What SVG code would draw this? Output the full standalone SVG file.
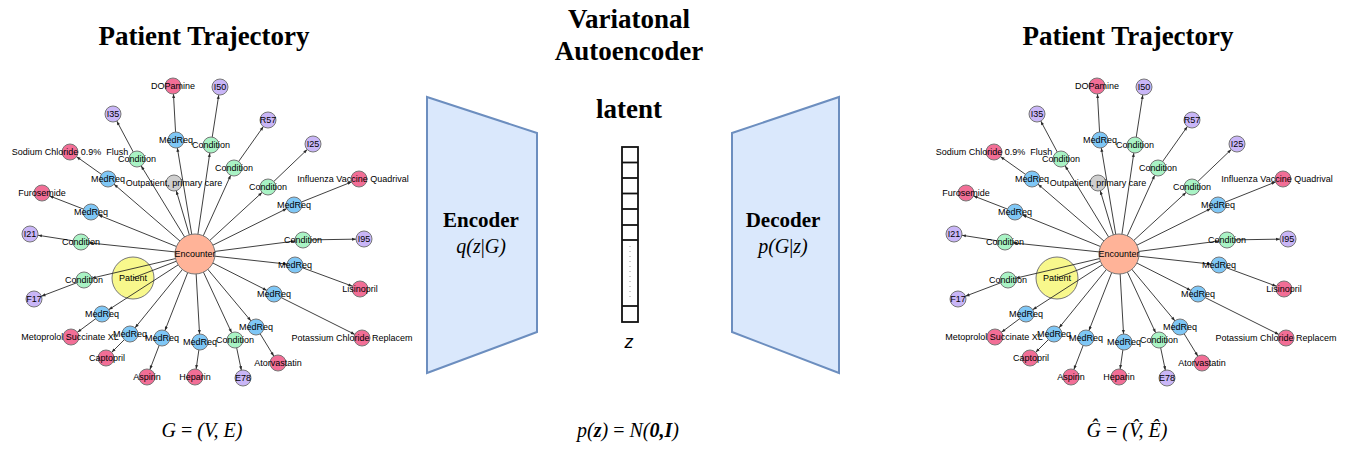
<svg xmlns="http://www.w3.org/2000/svg" width="1346" height="449" viewBox="0 0 1346 449">
<style>
.title{font-family:"Liberation Serif",serif;font-weight:bold;font-size:27px;fill:#000;text-anchor:middle}
.blk{font-family:"Liberation Serif",serif;font-weight:bold;font-size:21px;fill:#000;text-anchor:middle}
.math{font-family:"Liberation Serif",serif;font-size:20px;fill:#000;text-anchor:middle}
.it{font-style:italic}
.bi{font-style:italic;font-weight:bold}
.lbl{font-family:"Liberation Sans",Arial,sans-serif;font-size:9px;fill:#000;text-anchor:middle;white-space:pre}
.n circle{stroke:#777;stroke-width:1}
.pink{fill:#F26E96}
.purple{fill:#C9B6F7}
.blue{fill:#7FC7F6}
.green{fill:#A9F3C5}
.gray{fill:#CFCFCF}
.salmon{fill:#FFB398}
.yellow{fill:#F8F88C}
.e{stroke:#2a2a2a;stroke-width:0.9;marker-end:url(#arr)}
.e0{stroke:#2a2a2a;stroke-width:0.9}
.trap{fill:#DAE8FC;stroke:#6C8EBF;stroke-width:2}
.cell{fill:#fff;stroke:#111;stroke-width:1.8}
</style>
<defs>
<marker id="arr" markerUnits="userSpaceOnUse" markerWidth="14" markerHeight="4" refX="12" refY="1.5" orient="auto" overflow="visible">
<path d="M0,0 L4,1.5 L0,3 z" fill="#2a2a2a"/>
</marker>
</defs>

<text class="title" x="204" y="45">Patient Trajectory</text>
<text class="title" x="1128" y="45">Patient Trajectory</text>
<text class="title" x="629" y="28">Variatonal</text>
<text class="title" x="629" y="60">Autoencoder</text>
<text class="title" x="629" y="118">latent</text>

<!-- LEFT GRAPH -->
<g id="left-graph">
<g id="L-patient" class="n"><circle class="yellow" cx="133" cy="278" r="21"/><text class="lbl" x="133" y="281">Patient</text></g>
<g id="L-connectors">
<line class="e0" x1="195" y1="254" x2="133" y2="278"/>
<line class="e" x1="195" y1="254" x2="174" y2="183"/>
<line class="e" x1="195" y1="254" x2="211" y2="145"/>
<line class="e" x1="195" y1="254" x2="176" y2="140"/>
<line class="e" x1="195" y1="254" x2="137" y2="159"/>
<line class="e" x1="195" y1="254" x2="108" y2="179"/>
<line class="e" x1="195" y1="254" x2="91" y2="212"/>
<line class="e" x1="195" y1="254" x2="234" y2="168"/>
<line class="e" x1="195" y1="254" x2="268" y2="187"/>
<line class="e" x1="195" y1="254" x2="294" y2="205"/>
<line class="e" x1="195" y1="254" x2="81" y2="242"/>
<line class="e" x1="195" y1="254" x2="84" y2="280"/>
<line class="e" x1="195" y1="254" x2="102" y2="314"/>
<line class="e" x1="195" y1="254" x2="130" y2="334"/>
<line class="e" x1="195" y1="254" x2="162" y2="338"/>
<line class="e" x1="195" y1="254" x2="200" y2="342"/>
<line class="e" x1="195" y1="254" x2="303" y2="240"/>
<line class="e" x1="195" y1="254" x2="295" y2="265"/>
<line class="e" x1="195" y1="254" x2="274" y2="294"/>
<line class="e" x1="195" y1="254" x2="256" y2="327"/>
<line class="e" x1="195" y1="254" x2="235" y2="340"/>
<line class="e" x1="211" y1="145" x2="220" y2="87"/>
<line class="e" x1="176" y1="140" x2="173" y2="86"/>
<line class="e" x1="137" y1="159" x2="113" y2="114"/>
<line class="e" x1="108" y1="179" x2="70" y2="152"/>
<line class="e" x1="91" y1="212" x2="42" y2="193"/>
<line class="e" x1="234" y1="168" x2="268" y2="120"/>
<line class="e" x1="268" y1="187" x2="313" y2="144"/>
<line class="e" x1="294" y1="205" x2="359" y2="179"/>
<line class="e" x1="81" y1="242" x2="30" y2="234"/>
<line class="e" x1="84" y1="280" x2="34" y2="299"/>
<line class="e" x1="102" y1="314" x2="71" y2="337"/>
<line class="e" x1="130" y1="334" x2="106" y2="358"/>
<line class="e" x1="162" y1="338" x2="147" y2="377"/>
<line class="e" x1="200" y1="342" x2="195" y2="377"/>
<line class="e" x1="303" y1="240" x2="364" y2="239"/>
<line class="e" x1="295" y1="265" x2="360" y2="289"/>
<line class="e" x1="274" y1="294" x2="362" y2="338"/>
<line class="e" x1="256" y1="327" x2="278" y2="363"/>
<line class="e" x1="235" y1="340" x2="243" y2="378"/>
</g>
<g id="L-encounter" class="n"><circle class="salmon" cx="195" cy="254" r="20"/><text class="lbl" x="195" y="257">Encounter</text></g>
<g id="L-outpatient" class="n"><circle class="gray" cx="174" cy="183" r="8"/><text class="lbl" x="174" y="186">Outpatient, primary care</text></g>
<g id="L-c1" class="n"><circle class="green" cx="211" cy="145" r="8"/><text class="lbl" x="211" y="148">Condition</text></g>
<g id="L-m1" class="n"><circle class="blue" cx="176" cy="140" r="8"/><text class="lbl" x="176" y="143">MedReq</text></g>
<g id="L-c2" class="n"><circle class="green" cx="137" cy="159" r="8"/><text class="lbl" x="137" y="162">Condition</text></g>
<g id="L-m2" class="n"><circle class="blue" cx="108" cy="179" r="8"/><text class="lbl" x="108" y="182">MedReq</text></g>
<g id="L-m3" class="n"><circle class="blue" cx="91" cy="212" r="8"/><text class="lbl" x="91" y="215">MedReq</text></g>
<g id="L-c3" class="n"><circle class="green" cx="234" cy="168" r="8"/><text class="lbl" x="234" y="171">Condition</text></g>
<g id="L-c4" class="n"><circle class="green" cx="268" cy="187" r="8"/><text class="lbl" x="268" y="190">Condition</text></g>
<g id="L-m4" class="n"><circle class="blue" cx="294" cy="205" r="8"/><text class="lbl" x="294" y="208">MedReq</text></g>
<g id="L-c5" class="n"><circle class="green" cx="81" cy="242" r="8"/><text class="lbl" x="81" y="245">Condition</text></g>
<g id="L-c6" class="n"><circle class="green" cx="84" cy="280" r="8"/><text class="lbl" x="84" y="283">Condition</text></g>
<g id="L-m5" class="n"><circle class="blue" cx="102" cy="314" r="8"/><text class="lbl" x="102" y="317">MedReq</text></g>
<g id="L-m6" class="n"><circle class="blue" cx="130" cy="334" r="8"/><text class="lbl" x="130" y="337">MedReq</text></g>
<g id="L-m7" class="n"><circle class="blue" cx="162" cy="338" r="8"/><text class="lbl" x="162" y="341">MedReq</text></g>
<g id="L-m8" class="n"><circle class="blue" cx="200" cy="342" r="8"/><text class="lbl" x="200" y="345">MedReq</text></g>
<g id="L-c7" class="n"><circle class="green" cx="303" cy="240" r="8"/><text class="lbl" x="303" y="243">Condition</text></g>
<g id="L-m9" class="n"><circle class="blue" cx="295" cy="265" r="8"/><text class="lbl" x="295" y="268">MedReq</text></g>
<g id="L-m10" class="n"><circle class="blue" cx="274" cy="294" r="8"/><text class="lbl" x="274" y="297">MedReq</text></g>
<g id="L-m11" class="n"><circle class="blue" cx="256" cy="327" r="8"/><text class="lbl" x="256" y="330">MedReq</text></g>
<g id="L-c8" class="n"><circle class="green" cx="235" cy="340" r="8"/><text class="lbl" x="235" y="343">Condition</text></g>
<g id="L-i50" class="n"><circle class="purple" cx="220" cy="87" r="8"/><text class="lbl" x="220" y="90">I50</text></g>
<g id="L-dopamine" class="n"><circle class="pink" cx="173" cy="86" r="8"/><text class="lbl" x="173" y="89">DOPamine</text></g>
<g id="L-i35" class="n"><circle class="purple" cx="113" cy="114" r="8"/><text class="lbl" x="113" y="117">I35</text></g>
<g id="L-sodium" class="n"><circle class="pink" cx="70" cy="152" r="8"/><text class="lbl" x="70" y="155">Sodium Chloride 0.9%  Flush</text></g>
<g id="L-furosemide" class="n"><circle class="pink" cx="42" cy="193" r="8"/><text class="lbl" x="42" y="196">Furosemide</text></g>
<g id="L-r57" class="n"><circle class="purple" cx="268" cy="120" r="8"/><text class="lbl" x="268" y="123">R57</text></g>
<g id="L-i25" class="n"><circle class="purple" cx="313" cy="144" r="8"/><text class="lbl" x="313" y="147">I25</text></g>
<g id="L-influenza" class="n"><circle class="pink" cx="359" cy="179" r="8"/><text class="lbl" x="353" y="182">Influenza Vaccine Quadrival</text></g>
<g id="L-i21" class="n"><circle class="purple" cx="30" cy="234" r="8"/><text class="lbl" x="30" y="237">I21</text></g>
<g id="L-f17" class="n"><circle class="purple" cx="34" cy="299" r="8"/><text class="lbl" x="34" y="302">F17</text></g>
<g id="L-metoprolol" class="n"><circle class="pink" cx="71" cy="337" r="8"/><text class="lbl" x="70" y="340">Metoprolol Succinate XL</text></g>
<g id="L-captopril" class="n"><circle class="pink" cx="106" cy="358" r="8"/><text class="lbl" x="107" y="361">Captopril</text></g>
<g id="L-aspirin" class="n"><circle class="pink" cx="147" cy="377" r="8"/><text class="lbl" x="147" y="380">Aspirin</text></g>
<g id="L-heparin" class="n"><circle class="pink" cx="195" cy="377" r="8"/><text class="lbl" x="195" y="380">Heparin</text></g>
<g id="L-i95" class="n"><circle class="purple" cx="364" cy="239" r="8"/><text class="lbl" x="364" y="242">I95</text></g>
<g id="L-lisinopril" class="n"><circle class="pink" cx="360" cy="289" r="8"/><text class="lbl" x="360" y="292">Lisinopril</text></g>
<g id="L-potassium" class="n"><circle class="pink" cx="362" cy="338" r="8"/><text class="lbl" x="352" y="341">Potassium Chloride Replacem</text></g>
<g id="L-atorvastatin" class="n"><circle class="pink" cx="278" cy="363" r="8"/><text class="lbl" x="278" y="366">Atorvastatin</text></g>
<g id="L-e78" class="n"><circle class="purple" cx="243" cy="378" r="8"/><text class="lbl" x="243" y="381">E78</text></g>
</g>

<!-- RIGHT GRAPH -->
<g id="right-graph" transform="translate(924,0)">
<g id="R-patient" class="n"><circle class="yellow" cx="133" cy="278" r="21"/><text class="lbl" x="133" y="281">Patient</text></g>
<g id="R-connectors">
<line class="e0" x1="195" y1="254" x2="133" y2="278"/>
<line class="e" x1="195" y1="254" x2="174" y2="183"/>
<line class="e" x1="195" y1="254" x2="211" y2="145"/>
<line class="e" x1="195" y1="254" x2="176" y2="140"/>
<line class="e" x1="195" y1="254" x2="137" y2="159"/>
<line class="e" x1="195" y1="254" x2="108" y2="179"/>
<line class="e" x1="195" y1="254" x2="91" y2="212"/>
<line class="e" x1="195" y1="254" x2="234" y2="168"/>
<line class="e" x1="195" y1="254" x2="268" y2="187"/>
<line class="e" x1="195" y1="254" x2="294" y2="205"/>
<line class="e" x1="195" y1="254" x2="81" y2="242"/>
<line class="e" x1="195" y1="254" x2="84" y2="280"/>
<line class="e" x1="195" y1="254" x2="102" y2="314"/>
<line class="e" x1="195" y1="254" x2="130" y2="334"/>
<line class="e" x1="195" y1="254" x2="162" y2="338"/>
<line class="e" x1="195" y1="254" x2="200" y2="342"/>
<line class="e" x1="195" y1="254" x2="303" y2="240"/>
<line class="e" x1="195" y1="254" x2="295" y2="265"/>
<line class="e" x1="195" y1="254" x2="274" y2="294"/>
<line class="e" x1="195" y1="254" x2="256" y2="327"/>
<line class="e" x1="195" y1="254" x2="235" y2="340"/>
<line class="e" x1="211" y1="145" x2="220" y2="87"/>
<line class="e" x1="176" y1="140" x2="173" y2="86"/>
<line class="e" x1="137" y1="159" x2="113" y2="114"/>
<line class="e" x1="108" y1="179" x2="70" y2="152"/>
<line class="e" x1="91" y1="212" x2="42" y2="193"/>
<line class="e" x1="234" y1="168" x2="268" y2="120"/>
<line class="e" x1="268" y1="187" x2="313" y2="144"/>
<line class="e" x1="294" y1="205" x2="359" y2="179"/>
<line class="e" x1="81" y1="242" x2="30" y2="234"/>
<line class="e" x1="84" y1="280" x2="34" y2="299"/>
<line class="e" x1="102" y1="314" x2="71" y2="337"/>
<line class="e" x1="130" y1="334" x2="106" y2="358"/>
<line class="e" x1="162" y1="338" x2="147" y2="377"/>
<line class="e" x1="200" y1="342" x2="195" y2="377"/>
<line class="e" x1="303" y1="240" x2="364" y2="239"/>
<line class="e" x1="295" y1="265" x2="360" y2="289"/>
<line class="e" x1="274" y1="294" x2="362" y2="338"/>
<line class="e" x1="256" y1="327" x2="278" y2="363"/>
<line class="e" x1="235" y1="340" x2="243" y2="378"/>
</g>
<g id="R-encounter" class="n"><circle class="salmon" cx="195" cy="254" r="20"/><text class="lbl" x="195" y="257">Encounter</text></g>
<g id="R-outpatient" class="n"><circle class="gray" cx="174" cy="183" r="8"/><text class="lbl" x="174" y="186">Outpatient, primary care</text></g>
<g id="R-c1" class="n"><circle class="green" cx="211" cy="145" r="8"/><text class="lbl" x="211" y="148">Condition</text></g>
<g id="R-m1" class="n"><circle class="blue" cx="176" cy="140" r="8"/><text class="lbl" x="176" y="143">MedReq</text></g>
<g id="R-c2" class="n"><circle class="green" cx="137" cy="159" r="8"/><text class="lbl" x="137" y="162">Condition</text></g>
<g id="R-m2" class="n"><circle class="blue" cx="108" cy="179" r="8"/><text class="lbl" x="108" y="182">MedReq</text></g>
<g id="R-m3" class="n"><circle class="blue" cx="91" cy="212" r="8"/><text class="lbl" x="91" y="215">MedReq</text></g>
<g id="R-c3" class="n"><circle class="green" cx="234" cy="168" r="8"/><text class="lbl" x="234" y="171">Condition</text></g>
<g id="R-c4" class="n"><circle class="green" cx="268" cy="187" r="8"/><text class="lbl" x="268" y="190">Condition</text></g>
<g id="R-m4" class="n"><circle class="blue" cx="294" cy="205" r="8"/><text class="lbl" x="294" y="208">MedReq</text></g>
<g id="R-c5" class="n"><circle class="green" cx="81" cy="242" r="8"/><text class="lbl" x="81" y="245">Condition</text></g>
<g id="R-c6" class="n"><circle class="green" cx="84" cy="280" r="8"/><text class="lbl" x="84" y="283">Condition</text></g>
<g id="R-m5" class="n"><circle class="blue" cx="102" cy="314" r="8"/><text class="lbl" x="102" y="317">MedReq</text></g>
<g id="R-m6" class="n"><circle class="blue" cx="130" cy="334" r="8"/><text class="lbl" x="130" y="337">MedReq</text></g>
<g id="R-m7" class="n"><circle class="blue" cx="162" cy="338" r="8"/><text class="lbl" x="162" y="341">MedReq</text></g>
<g id="R-m8" class="n"><circle class="blue" cx="200" cy="342" r="8"/><text class="lbl" x="200" y="345">MedReq</text></g>
<g id="R-c7" class="n"><circle class="green" cx="303" cy="240" r="8"/><text class="lbl" x="303" y="243">Condition</text></g>
<g id="R-m9" class="n"><circle class="blue" cx="295" cy="265" r="8"/><text class="lbl" x="295" y="268">MedReq</text></g>
<g id="R-m10" class="n"><circle class="blue" cx="274" cy="294" r="8"/><text class="lbl" x="274" y="297">MedReq</text></g>
<g id="R-m11" class="n"><circle class="blue" cx="256" cy="327" r="8"/><text class="lbl" x="256" y="330">MedReq</text></g>
<g id="R-c8" class="n"><circle class="green" cx="235" cy="340" r="8"/><text class="lbl" x="235" y="343">Condition</text></g>
<g id="R-i50" class="n"><circle class="purple" cx="220" cy="87" r="8"/><text class="lbl" x="220" y="90">I50</text></g>
<g id="R-dopamine" class="n"><circle class="pink" cx="173" cy="86" r="8"/><text class="lbl" x="173" y="89">DOPamine</text></g>
<g id="R-i35" class="n"><circle class="purple" cx="113" cy="114" r="8"/><text class="lbl" x="113" y="117">I35</text></g>
<g id="R-sodium" class="n"><circle class="pink" cx="70" cy="152" r="8"/><text class="lbl" x="70" y="155">Sodium Chloride 0.9%  Flush</text></g>
<g id="R-furosemide" class="n"><circle class="pink" cx="42" cy="193" r="8"/><text class="lbl" x="42" y="196">Furosemide</text></g>
<g id="R-r57" class="n"><circle class="purple" cx="268" cy="120" r="8"/><text class="lbl" x="268" y="123">R57</text></g>
<g id="R-i25" class="n"><circle class="purple" cx="313" cy="144" r="8"/><text class="lbl" x="313" y="147">I25</text></g>
<g id="R-influenza" class="n"><circle class="pink" cx="359" cy="179" r="8"/><text class="lbl" x="353" y="182">Influenza Vaccine Quadrival</text></g>
<g id="R-i21" class="n"><circle class="purple" cx="30" cy="234" r="8"/><text class="lbl" x="30" y="237">I21</text></g>
<g id="R-f17" class="n"><circle class="purple" cx="34" cy="299" r="8"/><text class="lbl" x="34" y="302">F17</text></g>
<g id="R-metoprolol" class="n"><circle class="pink" cx="71" cy="337" r="8"/><text class="lbl" x="70" y="340">Metoprolol Succinate XL</text></g>
<g id="R-captopril" class="n"><circle class="pink" cx="106" cy="358" r="8"/><text class="lbl" x="107" y="361">Captopril</text></g>
<g id="R-aspirin" class="n"><circle class="pink" cx="147" cy="377" r="8"/><text class="lbl" x="147" y="380">Aspirin</text></g>
<g id="R-heparin" class="n"><circle class="pink" cx="195" cy="377" r="8"/><text class="lbl" x="195" y="380">Heparin</text></g>
<g id="R-i95" class="n"><circle class="purple" cx="364" cy="239" r="8"/><text class="lbl" x="364" y="242">I95</text></g>
<g id="R-lisinopril" class="n"><circle class="pink" cx="360" cy="289" r="8"/><text class="lbl" x="360" y="292">Lisinopril</text></g>
<g id="R-potassium" class="n"><circle class="pink" cx="362" cy="338" r="8"/><text class="lbl" x="352" y="341">Potassium Chloride Replacem</text></g>
<g id="R-atorvastatin" class="n"><circle class="pink" cx="278" cy="363" r="8"/><text class="lbl" x="278" y="366">Atorvastatin</text></g>
<g id="R-e78" class="n"><circle class="purple" cx="243" cy="378" r="8"/><text class="lbl" x="243" y="381">E78</text></g>
</g>

<!-- ENCODER -->
<g id="encoder">
<polygon class="trap" points="427,97 537,133 537,332 427,373"/>
<text class="blk" x="481" y="227">Encoder</text>
<text class="math" x="481" y="253" font-size="21"><tspan class="it">q(</tspan><tspan class="it">z</tspan>|<tspan class="it">G)</tspan></text>
</g>

<!-- LATENT -->
<g id="latent">
<rect class="cell" x="622" y="147" width="16" height="175"/>
<line class="cell" x1="622" y1="162.5" x2="638" y2="162.5"/>
<line class="cell" x1="622" y1="178" x2="638" y2="178"/>
<line class="cell" x1="622" y1="193.5" x2="638" y2="193.5"/>
<line class="cell" x1="622" y1="209" x2="638" y2="209"/>
<line class="cell" x1="622" y1="225" x2="638" y2="225"/>
<line class="cell" x1="622" y1="240" x2="638" y2="240"/>
<line class="cell" x1="622" y1="306" x2="638" y2="306"/>
<line x1="630" y1="246" x2="630" y2="300" stroke="#999" stroke-width="1" stroke-dasharray="1,4"/>
<text x="629" y="348" font-family="Liberation Sans,sans-serif" font-style="italic" font-size="18" text-anchor="middle">z</text>
</g>

<!-- DECODER -->
<g id="decoder">
<polygon class="trap" points="732,133 839,97 839,373 732,332"/>
<text class="blk" x="783" y="227">Decoder</text>
<text class="math" x="783" y="253" font-size="21"><tspan class="it">p(G</tspan>|<tspan class="it">z)</tspan></text>
</g>

<!-- FORMULAS -->
<text class="math" x="202" y="437"><tspan class="it">G</tspan> = <tspan class="it">(V, E)</tspan></text>
<text class="math" x="628" y="437"><tspan class="it">p(</tspan><tspan class="bi">z</tspan><tspan class="it">)</tspan> = <tspan class="it">N(</tspan><tspan class="bi">0,I</tspan><tspan class="it">)</tspan></text>
<text class="math" x="1127" y="437"><tspan class="it">Ĝ</tspan> = <tspan class="it">(V̂, Ê)</tspan></text>
</svg>
